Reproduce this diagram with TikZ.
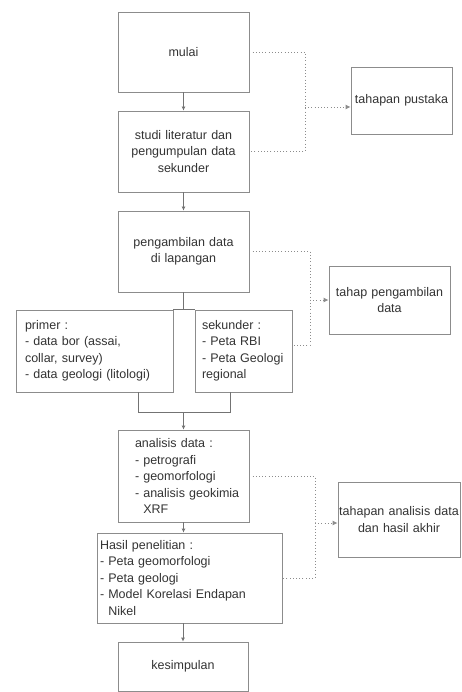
\documentclass[tikz,border=0pt]{standalone}
\usepackage{fontspec}
\setmainfont{Liberation Sans}
\usetikzlibrary{arrows.meta,calc}
\newcommand\oneline[1]{\mbox{#1}}
\begin{document}
\begin{tikzpicture}[x=1pt,y=-1pt,
  box/.style={draw=black!45, line width=0.8pt, inner ysep=0pt, inner xsep=2pt,
    font=\fontsize{12.5}{16.5}\selectfont, text=black!80},
  cbox/.style={box, align=center},
  lbox/.style={box, align=left},
  flow/.style={draw=black!55, line width=0.8pt},
  arr/.style={flow, -{Latex[length=4pt,width=4pt]}},
  dotl/.style={draw=black!45, line width=0.9pt, dash pattern=on 1pt off 2.2pt},
  darr/.style={dotl, -{Latex[length=5pt,width=5pt]}}
]
\useasboundingbox (0,0) rectangle (462,692);

% main column
\node[cbox, minimum width=131pt, minimum height=80pt, text width=127pt] (mulai) at (183.5,52) {mulai};
\node[cbox, minimum width=131pt, minimum height=81pt, text width=127pt] (studi) at (183.5,151.5)
  {studi literatur dan\\pengumpulan data\\sekunder};
\node[cbox, minimum width=131pt, minimum height=81pt, text width=127pt] (peng) at (183.5,251.5)
  {pengambilan data\\di lapangan};
\node[lbox, minimum width=157pt, minimum height=82pt, text width=139pt, inner xsep=9pt] (primer) at (94.5,351)
  {\oneline{primer :}\\\oneline{- data bor (assai,}\\\oneline{collar, survey)}\\\oneline{- data geologi (litologi)}};
\node[lbox, minimum width=97pt, minimum height=82pt, text width=83pt, inner xsep=7pt] (sek) at (243.5,351)
  {\oneline{sekunder :}\\\oneline{- Peta RBI}\\\oneline{- Peta Geologi}\\\oneline{regional}};
\node[lbox, minimum width=131pt, minimum height=92pt, text width=97pt, inner xsep=17pt] (anal) at (183.5,476)
  {\oneline{analisis data :}\\\oneline{- petrografi}\\\oneline{- geomorfologi}\\\oneline{- analisis geokimia}\\\oneline{\phantom{- }XRF}};
\node[lbox, minimum width=185pt, minimum height=90pt, text width=179pt, inner xsep=3pt] (hasil) at (189.5,578)
  {\oneline{Hasil penelitian :}\\\oneline{- Peta geomorfologi}\\\oneline{- Peta geologi}\\\oneline{- Model Korelasi Endapan}\\\oneline{\phantom{- }Nikel}};
\node[cbox, minimum width=130pt, minimum height=49pt, text width=126pt] (kes) at (183,666.5) {kesimpulan};

% stage boxes
\node[cbox, minimum width=101pt, minimum height=67pt, text width=99pt, inner xsep=1pt] (tp) at (401.5,100.5) {tahapan pustaka};
\node[cbox, minimum width=121pt, minimum height=68pt, text width=119pt, inner xsep=1pt] (tpd) at (389.5,300) {tahap pengambilan\\data};
\node[cbox, minimum width=122pt, minimum height=75pt, text width=120pt, inner xsep=1pt] (tad) at (399,519.5) {tahapan analisis data\\dan hasil akhir};

% solid flow
\draw[arr] (mulai) -- (studi);
\draw[arr] (studi) -- (peng);
\coordinate (split) at (183.5,310);
\draw[flow] (peng.south) -- (split);
\draw[flow] (primer.north east) -- (sek.north west);
\coordinate (jl) at (138,412);
\coordinate (jr) at (230,412);
\coordinate (jm) at (183.5,412);
\draw[flow] (primer.south -| jl) -- (jl) -- (jr) -- (sek.south -| jr);
\draw[arr] (jm) -- (anal.north);
\draw[arr] (anal) -- (anal.south |- hasil.north);
\draw[arr] (hasil.south -| kes.north) -- (kes.north);

% dotted stage brackets
\coordinate (d1) at (305,107);
\draw[dotl] (mulai.east) -| (d1) |- (studi.east);
\draw[darr] (d1) -- (d1 -| tp.west);
\coordinate (d2) at (310,300);
\draw[dotl] (peng.east) -| (d2) |- ($(sek.east)+(0,-6)$);
\draw[darr] (d2) -- (tpd.west);
\coordinate (d3) at (315,523);
\draw[dotl] (anal.east) -| (d3) |- (hasil.east);
\draw[darr] (d3) -- (d3 -| tad.west);
\end{tikzpicture}
\end{document}
